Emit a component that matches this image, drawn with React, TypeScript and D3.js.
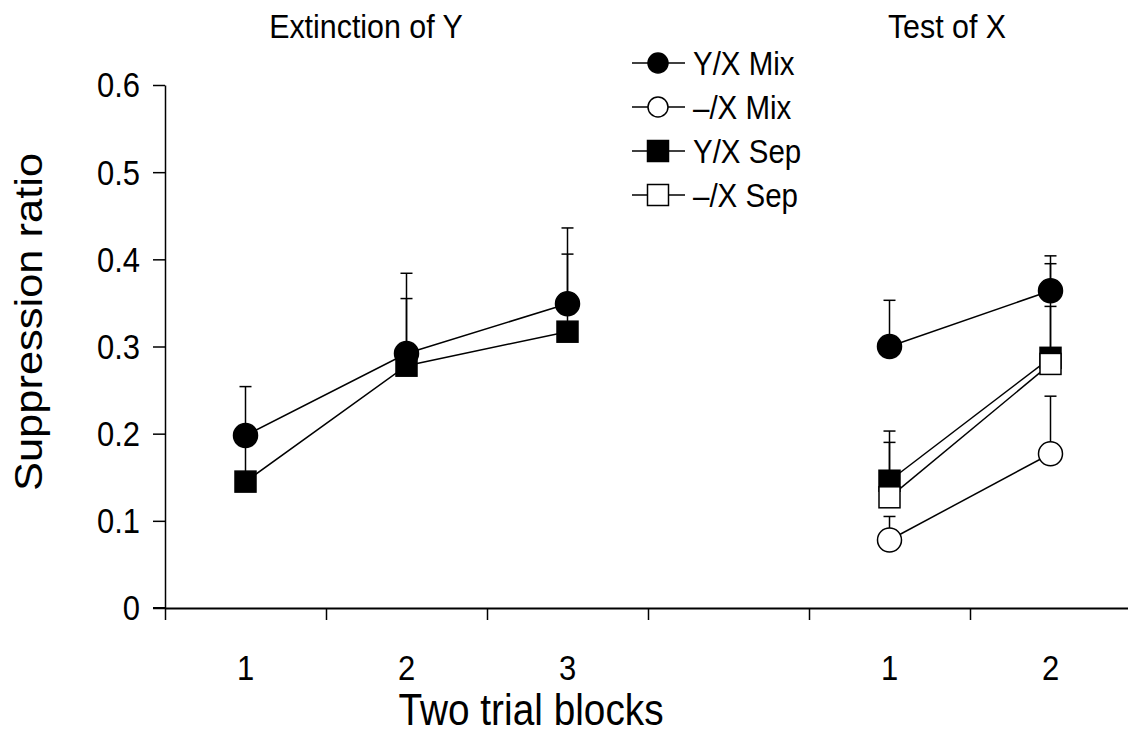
import React, { useEffect, useRef } from "react";
import * as d3 from "d3";

// Data
const groups = ["Extinction of Y", "Test of X"];
const blockLabels = ["1", "2", "3", "1", "2"];
const blockPos = [0.5, 1.5, 2.5, 4.5, 5.5];
const yTicks = [0, 0.1, 0.2, 0.3, 0.4, 0.5, 0.6];

const seriesNames = ["Y/X Mix", "\u2013/X Mix", "Y/X Sep", "\u2013/X Sep"];
const shapes = ["circle", "circle", "square", "square"];
const filled = [true, false, true, false];

// extinction (3 blocks) — only Y/X groups
const extMeans = [[0.198, 0.292, 0.349], null, [0.145, 0.278, 0.317], null];
const extErr = [[0.254, 0.384, 0.436], null, [0.195, 0.355, 0.406], null];
// test (2 blocks)
const testMeans = [[0.3, 0.364], [0.078, 0.177], [0.146, 0.287], [0.127, 0.28]];
const testErr = [[0.353, 0.404], [0.105, 0.243], [0.203, 0.395], [0.19, 0.346]];

const W = 1128;
const H = 747;
const FONT = "'Liberation Sans', Arial, sans-serif";
const SY = 1.12; // text in the original is a bit taller than wide

function label(g: any, x: number, y: number, size: number, txt: string, anchor = "middle") {
  return g.append("text")
    .attr("transform", `translate(${x},${y}) scale(1,${SY})`)
    .attr("text-anchor", anchor)
    .attr("font-size", size)
    .attr("font-family", FONT)
    .attr("fill", "#000")
    .text(txt);
}

function draw(svgEl: SVGSVGElement) {
  const svg = d3.select(svgEl);
  svg.selectAll("*").remove();

  const x = d3.scaleLinear().domain([0, 6]).range([165, 1131]);
  const y = d3.scaleLinear().domain([0, 0.6]).range([608, 85]);

  // axes
  const gy = svg.append("g").attr("transform", `translate(165,0)`);
  gy.call(d3.axisLeft(y).tickValues(yTicks).tickSize(12).tickSizeOuter(0).tickFormat(() => ""));
  gy.select(".domain").attr("stroke-width", 1.5);
  gy.selectAll(".tick line").attr("stroke-width", 1.5);
  yTicks.forEach(t => label(svg, 140, y(t) + 12.4, 31, String(t), "end"));

  const gx = svg.append("g").attr("transform", `translate(0,608)`);
  gx.call(d3.axisBottom(x).tickValues(d3.range(0, 7)).tickSize(12).tickSizeOuter(0).tickFormat(() => ""));
  gx.select(".domain").attr("stroke-width", 2);
  gx.selectAll(".tick line").attr("stroke-width", 1.5);
  // short left overhang of the x axis
  svg.append("line").attr("x1", 153).attr("x2", 165).attr("y1", 608).attr("y2", 608)
    .attr("stroke", "#000").attr("stroke-width", 2);

  blockLabels.forEach((b, i) => label(svg, x(blockPos[i]), 679.5, 31, b));

  // titles
  label(svg, 531, 725, 38.8, "Two trial blocks");
  svg.append("text").attr("transform", `translate(42,322) rotate(-90) scale(${SY},1)`)
    .attr("text-anchor", "middle").attr("font-size", 38.8).attr("font-family", FONT)
    .text("Suppression ratio");
  label(svg, 366, 38, 30.4, groups[0]);
  label(svg, 947, 38, 30.4, groups[1]);

  const plot = svg.append("g");
  const line = d3.line<[number, number]>().x(d => x(d[0])).y(d => y(d[1]));

  const drawMarker = (g: any, cx: number, cy: number, s: number, big: boolean) => {
    if (shapes[s] === "circle") {
      g.append("circle").attr("cx", cx).attr("cy", cy).attr("r", big ? 12 : 10)
        .attr("fill", filled[s] ? "#000" : "#fff").attr("stroke", "#000").attr("stroke-width", 1.5);
    } else {
      const h = 10.5;
      g.append("rect").attr("x", cx - h).attr("y", cy - h).attr("width", 2 * h).attr("height", 2 * h)
        .attr("fill", filled[s] ? "#000" : "#fff").attr("stroke", "#000").attr("stroke-width", 1.5);
    }
  };

  const sets = [
    { means: extMeans, errs: extErr, pos: blockPos.slice(0, 3) },
    { means: testMeans, errs: testErr, pos: blockPos.slice(3) },
  ];

  // error bars
  sets.forEach(set => {
    set.means.forEach((m, s) => {
      if (!m) return;
      m.forEach((v, i) => {
        const e = set.errs[s]![i];
        const cx = x(set.pos[i]);
        plot.append("line").attr("x1", cx).attr("x2", cx).attr("y1", y(v)).attr("y2", y(e))
          .attr("stroke", "#000").attr("stroke-width", 1.5);
        plot.append("line").attr("x1", cx - 6).attr("x2", cx + 6).attr("y1", y(e)).attr("y2", y(e))
          .attr("stroke", "#000").attr("stroke-width", 1.5);
      });
    });
  });

  // lines
  sets.forEach(set => {
    set.means.forEach(m => {
      if (!m) return;
      plot.append("path").datum(m.map((v, i) => [set.pos[i], v] as [number, number]))
        .attr("d", line).attr("fill", "none").attr("stroke", "#000").attr("stroke-width", 1.5);
    });
  });

  // markers
  sets.forEach(set => {
    set.means.forEach((m, s) => {
      if (!m) return;
      m.forEach((v, i) => drawMarker(plot, x(set.pos[i]), y(v), s, true));
    });
  });

  // legend
  const lg = svg.append("g");
  seriesNames.forEach((name, s) => {
    const ly = 63 + s * 44;
    lg.append("line").attr("x1", 632).attr("x2", 685).attr("y1", ly).attr("y2", ly)
      .attr("stroke", "#000").attr("stroke-width", 1.5);
    drawMarker(lg, 658, ly, s, false);
    label(lg, 693, ly + 11.8, 29.5, name, "start");
  });
}

export default function App() {
  const ref = useRef<SVGSVGElement>(null);
  useEffect(() => {
    if (ref.current) draw(ref.current);
  }, []);
  return (
    <svg ref={ref} width={W} height={H}
      style={{ position: "absolute", left: 0, top: 0, background: "#fff" }} />
  );
}
